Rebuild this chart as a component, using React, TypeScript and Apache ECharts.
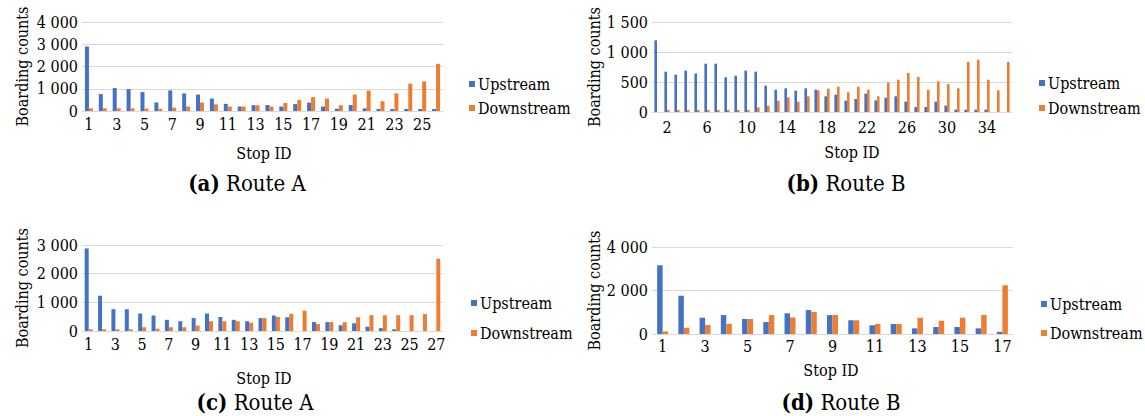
import React, { useEffect, useRef } from "react";
import * as echarts from "echarts";

const FONT = "DejaVu Serif Condensed, DejaVu Serif";
const BLUE = "#4472C4";
const ORANGE = "#ED7D31";

// Route A (panel a), 26 stops
const stopsA1 = Array.from({ length: 26 }, (_, i) => String(i + 1));
const upA1 = [2900, 760, 1030, 985, 850, 380, 925, 790, 740, 560, 320, 200, 260, 270, 200, 310, 380, 200, 100, 270, 120, 90, 90, 90, 90, 90];
const downA1 = [120, 120, 120, 120, 110, 100, 150, 200, 380, 300, 200, 200, 260, 200, 360, 500, 620, 560, 260, 740, 920, 440, 790, 1230, 1330, 2120];

// Route B (panel b), 36 stops
const stopsB1 = Array.from({ length: 36 }, (_, i) => String(i + 1));
const upB1 = [1195, 672, 622, 689, 644, 805, 805, 578, 605, 689, 672, 439, 372, 394, 355, 394, 372, 261, 289, 189, 217, 306, 194, 239, 261, 172, 83, 83, 172, 106, 39, 39, 39, 39, 0, 0];
const downB1 = [0, 33, 33, 33, 33, 33, 33, 33, 33, 33, 78, 105, 189, 244, 172, 261, 361, 389, 422, 328, 422, 372, 261, 489, 539, 650, 583, 372, 511, 467, 394, 833, 872, 539, 361, 833];

// Route A (panel c), 27 stops
const stopsA2 = Array.from({ length: 27 }, (_, i) => String(i + 1));
const upA2 = [2880, 1230, 760, 760, 610, 540, 390, 340, 450, 610, 490, 390, 340, 450, 540, 480, 0, 310, 310, 200, 270, 150, 100, 60, 0, 0, 0];
const downA2 = [60, 60, 60, 60, 130, 80, 130, 130, 190, 340, 340, 340, 290, 450, 490, 600, 710, 240, 310, 310, 480, 550, 550, 550, 550, 590, 2520];

// Route B (panel d), 17 stops
const stopsB2 = Array.from({ length: 17 }, (_, i) => String(i + 1));
const upB2 = [3160, 1760, 750, 870, 690, 550, 950, 1100, 870, 630, 400, 460, 260, 320, 320, 260, 100];
const downB2 = [120, 290, 410, 470, 690, 870, 760, 1010, 870, 630, 460, 460, 750, 610, 750, 870, 2240];

const yMax = [4000, 1500, 3000, 4000];
const yInterval = [1000, 500, 1000, 2000];

const fmt = (v: number) => {
  const s = String(Math.round(v));
  return s.replace(/\B(?=(\d{3})+(?!\d))/g, " ");
};

export default function App() {
  const ref = useRef<HTMLDivElement>(null);
  useEffect(() => {
    if (!ref.current) return;
    const chart = echarts.init(ref.current, undefined, { renderer: "svg" });

    const grids = [
      { left: 82, top: 22, width: 361, height: 89 },
      { left: 652, top: 22, width: 360, height: 90 },
      { left: 82, top: 245, width: 361, height: 86 },
      { left: 652, top: 247, width: 361, height: 87 },
    ];
    const cats = [stopsA1, stopsB1, stopsA2, stopsB2];
    const ups = [upA1, upB1, upA2, upB2];
    const downs = [downA1, downB1, downA2, downB2];
    const barW = [4, 2.6, 4, 5.5];
    const labelMargin = [5, 7, 5, 4];
    const nameGap = [52, 48, 52, 48];
    const intervals: any[] = [1, (idx: number) => idx % 4 === 1, 1, 1];

    const xAxis = grids.map((_, i) => ({
      type: "category",
      gridIndex: i,
      data: cats[i],
      axisTick: { show: false },
      axisLine: { lineStyle: { color: "#d9d9d9", width: 1 } },
      axisLabel: {
        interval: intervals[i],
        color: "#000",
        fontFamily: FONT,
        fontSize: 16,
        margin: labelMargin[i],
      },
    }));
    const yAxis = grids.map((_, i) => ({
      type: "value",
      gridIndex: i,
      min: 0,
      max: yMax[i],
      interval: yInterval[i],
      name: "Boarding counts",
      nameLocation: "middle",
      nameGap: nameGap[i],
      nameTextStyle: { color: "#000", fontFamily: FONT, fontSize: 16 },
      axisLine: { show: false },
      axisTick: { show: false },
      splitLine: { lineStyle: { color: "#d9d9d9", width: 1 } },
      axisLabel: {
        color: "#000",
        fontFamily: FONT,
        fontSize: 16,
        margin: 4,
        formatter: (v: number) => fmt(v),
      },
    }));
    const series: any[] = [];
    grids.forEach((_, i) => {
      series.push({
        name: "Upstream",
        type: "bar",
        xAxisIndex: i,
        yAxisIndex: i,
        data: ups[i],
        barWidth: barW[i],
        barGap: "0%",
        itemStyle: { color: BLUE },
      });
      series.push({
        name: "Downstream",
        type: "bar",
        xAxisIndex: i,
        yAxisIndex: i,
        data: downs[i],
        barWidth: barW[i],
        barGap: "0%",
        itemStyle: { color: ORANGE },
      });
    });

    const legendPos = [
      { left: 464, top: 71, gap: 8 },
      { left: 1034, top: 70, gap: 9 },
      { left: 466, top: 290, gap: 14 },
      { left: 1036, top: 291, gap: 13 },
    ];
    const legend = legendPos.map((p) => ({
      data: ["Upstream", "Downstream"],
      orient: "vertical",
      left: p.left,
      top: p.top,
      itemWidth: 6,
      itemHeight: 6,
      itemGap: p.gap,
      icon: "rect",
      selectedMode: false,
      textStyle: { color: "#000", fontFamily: FONT, fontSize: 16, padding: [0, 0, 0, -2] },
    }));

    const stopLabels = [
      [264, 153],
      [852, 152],
      [264, 378],
      [831, 370],
    ];
    const captions = [
      ["(a)", "Route A", 247, 183],
      ["(b)", "Route B", 846, 183],
      ["(c)", "Route A", 255, 402],
      ["(d)", "Route B", 841, 402],
    ];
    const graphic: any[] = [];
    stopLabels.forEach(([x, y]) => {
      graphic.push({
        type: "text",
        x,
        y,
        style: {
          text: "Stop ID",
          fill: "#000",
          fontFamily: FONT,
          fontSize: 16,
          textAlign: "center",
          textVerticalAlign: "middle",
        },
      });
    });
    captions.forEach(([b, t, x, y]) => {
      graphic.push({
        type: "text",
        x,
        y,
        style: {
          text: `{b|${b}} ${t}`,
          fill: "#000",
          fontFamily: FONT,
          fontSize: 22,
          textAlign: "center",
          textVerticalAlign: "middle",
          rich: {
            b: { fontWeight: "bold", fontFamily: FONT, fontSize: 22, fill: "#000" },
          },
        },
      });
    });

    chart.setOption({
      animation: false,
      backgroundColor: "#fff",
      textStyle: { fontFamily: FONT },
      grid: grids,
      xAxis,
      yAxis,
      series,
      legend,
      graphic,
    });
    return () => chart.dispose();
  }, []);
  return (
    <div
      ref={ref}
      style={{ position: "fixed", left: 0, top: 0, width: 1145, height: 416, background: "#fff" }}
    />
  );
}
